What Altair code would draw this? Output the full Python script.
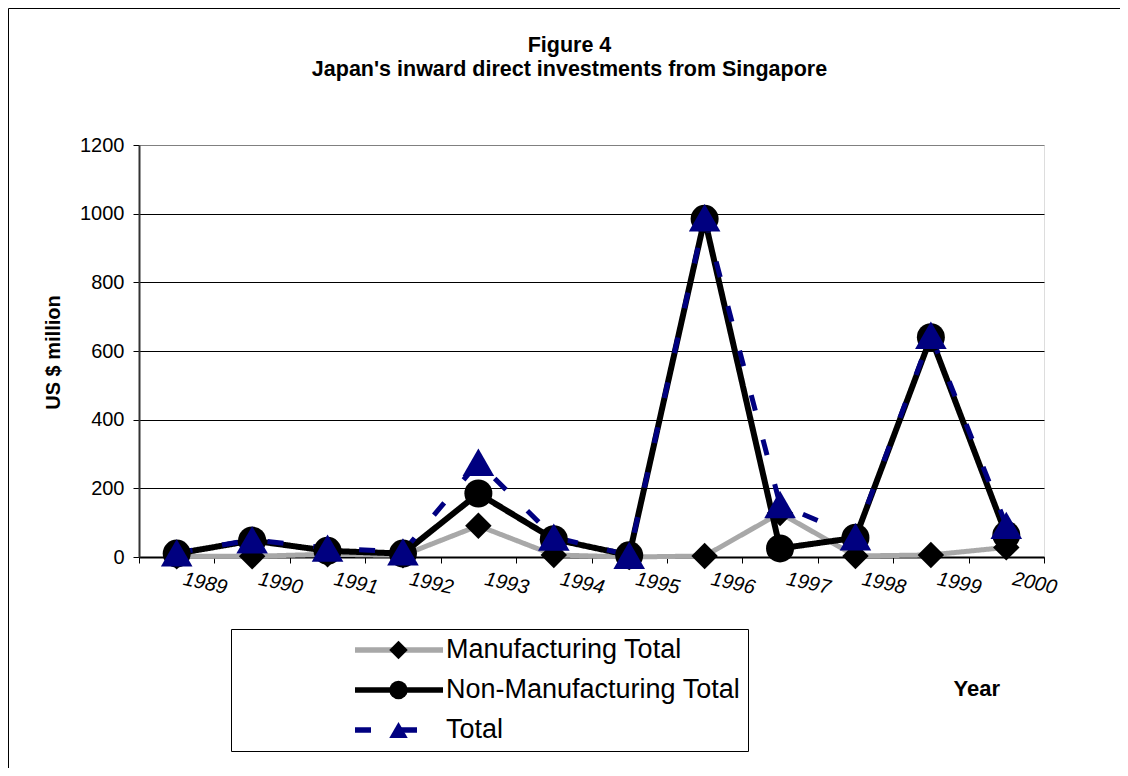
import altair as alt
import pandas as pd

years = ["1989", "1990", "1991", "1992", "1993", "1994",
         "1995", "1996", "1997", "1998", "1999", "2000"]
series_names = ["Manufacturing Total", "Non-Manufacturing Total", "Total"]
manufacturing = [2, 2, 8, 5, 91, 6, 0, 3, 128, 3, 6, 28]
non_manufacturing = [10, 48, 18, 10, 185, 52, 5, 985, 25, 56, 640, 64]
total = [12, 50, 26, 15, 276, 58, 5, 988, 153, 59, 646, 92]
y_ticks = [0, 200, 400, 600, 800, 1000, 1200]

rows = []
for name, vals in zip(series_names, [manufacturing, non_manufacturing, total]):
    for yr, v in zip(years, vals):
        rows.append({"year": yr, "series": name, "marker": name, "value": v})
df = pd.DataFrame(rows)

FONT = "Liberation Sans"
line_colors = ["#a8a8a8", "#000000", "#000080"]
line_dash = [[1, 0], [1, 0], [16, 30]]
marker_shapes = ["diamond", "circle", "triangle-up"]
marker_fill = ["#000000", "#000000", "#000080"]

x_enc = alt.X(
    "year:O", sort=years,
    scale=alt.Scale(type="band", paddingInner=0, paddingOuter=0),
    axis=alt.Axis(
        title="Year", titleX=814, titleY=131, titleAlign="left", titleBaseline="middle",
        titleFontSize=22, titleFontWeight="bold", titleColor="black", titleFont=FONT,
        labelAngle=12, labelAlign="center", labelBaseline="middle", labelOffset=28,
        labelPadding=20, labelFontSize=20, labelFontStyle="italic", labelColor="black",
        labelFont=FONT, tickBand="extent", ticks=True, tickSize=6, tickColor="black",
        domainColor="black", domainWidth=2, grid=False, labelOverlap=False,
    ),
)
y_enc = alt.Y(
    "value:Q",
    scale=alt.Scale(domain=[0, 1200], nice=False, zero=True),
    axis=alt.Axis(
        values=y_ticks, format="d", title="US $ million", titleX=-86, titleY=207,
        titleAlign="center", titleBaseline="middle", titleFontSize=20,
        titleFontWeight="bold", titleColor="black", titleFont=FONT,
        labelFontSize=20, labelColor="black", labelFont=FONT, labelPadding=9,
        tickSize=6, tickColor="black", domainColor="#333333", domainWidth=2,
        grid=True,
        gridColor={"condition": {"test": "datum.value == 1200", "value": "#808080"},
                   "value": "#000000"},
        gridWidth=1,
    ),
)

leg_lines = alt.Legend(
    title=None, orient="none", legendX=92, legendY=484, direction="vertical",
    symbolType="stroke", symbolSize=7744, symbolStrokeWidth=5.5, symbolOffset=114,
    labelOffset=0, labelFontSize=27, labelFont=FONT, labelColor="black", labelLimit=0,
    strokeColor="black", padding=7, rowPadding=12, clipHeight=28, fillColor="white",
)
leg_marks = alt.Legend(
    title=None, orient="none", legendX=92, legendY=484, direction="vertical",
    symbolSize=340, symbolStrokeWidth=0, symbolOffset=147, labelOffset=0,
    labelFontSize=27, labelFont=FONT, labelExpr="''", labelLimit=0,
    padding=7, rowPadding=12, clipHeight=28,
)

base = alt.Chart(df)

frame = alt.Chart(pd.DataFrame({"k": [0]})).mark_rect(
    fill="white", fillOpacity=0, stroke="black", strokeWidth=1
).encode(
    x=alt.value(-130.5), x2=alt.value(1100), y=alt.value(-136.5), y2=alt.value(800)
)

lines = base.mark_line(strokeCap="butt", strokeJoin="miter").encode(
    x=x_enc, y=y_enc,
    color=alt.Color("series:N", scale=alt.Scale(domain=series_names, range=line_colors),
                    legend=leg_lines),
    strokeDash=alt.StrokeDash("series:N", scale=alt.Scale(domain=series_names, range=line_dash),
                              legend=leg_lines),
    strokeWidth=alt.condition("datum.series == 'Non-Manufacturing Total'",
                              alt.value(6), alt.value(5)),
)

points = base.mark_point(filled=True, opacity=1, strokeWidth=0).encode(
    x=x_enc, y=y_enc,
    shape=alt.Shape("marker:N", scale=alt.Scale(domain=series_names, range=marker_shapes),
                    legend=leg_marks),
    fill=alt.Fill("marker:N", scale=alt.Scale(domain=series_names, range=marker_fill),
                  legend=leg_marks),
    size={"condition": [
        {"test": "datum.marker == 'Total'", "value": 1000},
        {"test": "datum.marker == 'Non-Manufacturing Total'", "value": 784},
    ], "value": 700},
)

chart = alt.layer(frame, lines, points).resolve_legend(
    color="independent", strokeDash="independent",
    shape="independent", fill="independent"
).properties(
    width=905, height=412,
    autosize=alt.AutoSizeParams(type="none"),
    padding={"left": 131, "top": 137, "right": 76, "bottom": 211},
    title=alt.TitleParams(
        ["Figure 4", "Japan's inward direct investments from Singapore"],
        fontSize=21.5, font=FONT, fontWeight="bold", color="black",
        anchor="middle", frame="group", offset=0, dy=72, dx=-22, lineHeight=24,
    ),
).configure_view(
    stroke="#808080", strokeWidth=2
).configure(background="white")

chart.save("out.html", embed_options={"renderer": "svg", "actions": False})
